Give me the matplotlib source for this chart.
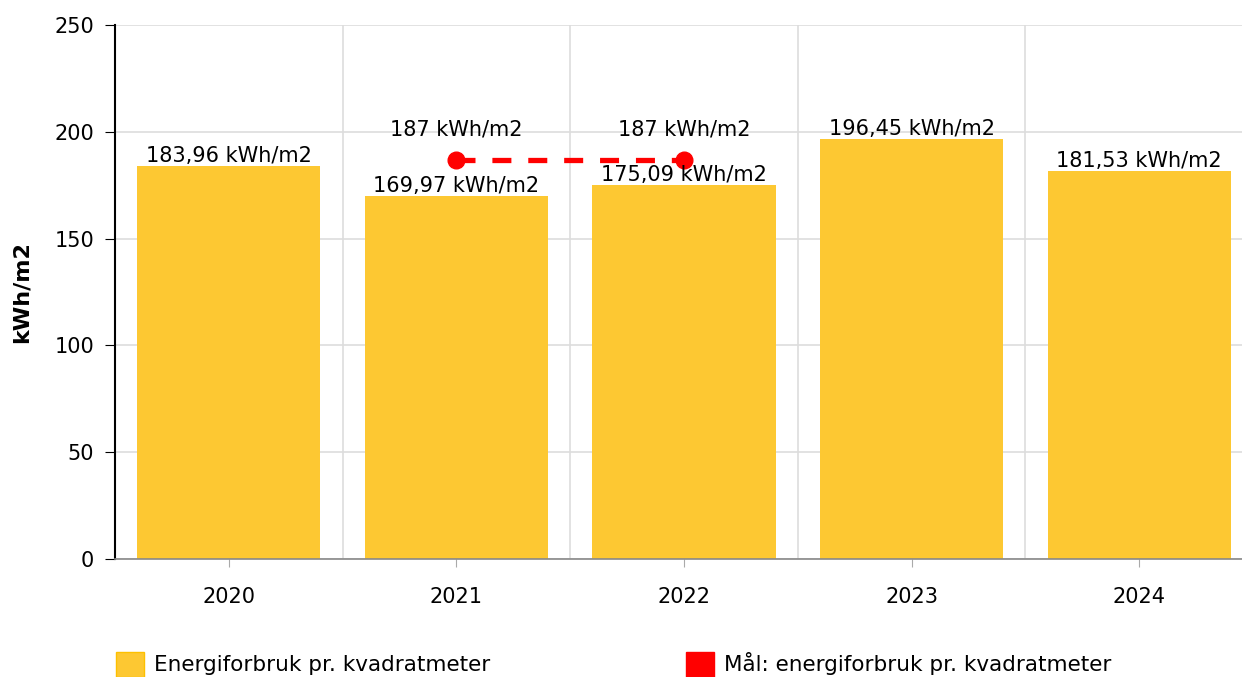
import matplotlib
matplotlib.use("Agg")
import matplotlib.pyplot as plt
from matplotlib.patches import Patch

years = ["2020", "2021", "2022", "2023", "2024"]
usage = [183.96, 169.97, 175.09, 196.45, 181.53]
target_years = ["2021", "2022"]
target = [187, 187]
yticks = [0, 50, 100, 150, 200, 250]

bar_color = "#fdc832"
red = "#ff0000"

plt.rcParams["font.family"] = "DejaVu Sans"

fig = plt.figure(figsize=(12.42, 6.77), dpi=100)
# axes runs past the right edge, as in the reference
ax = fig.add_axes([115 / 1242, 1 - 559 / 677, 1138 / 1242, 534 / 677])

x = list(range(len(years)))
ax.bar(x, usage, width=0.805, color=bar_color, zorder=2)
for xi, v in zip(x, usage):
    ax.annotate(f"{v:.2f}".replace(".", ",") + " kWh/m2", (xi, v),
                xytext=(0, 0), textcoords="offset points",
                ha="center", va="bottom", fontsize=15, zorder=4)

tx = [years.index(y) for y in target_years]
ax.plot(tx, target, color=red, linestyle=(0, (3.6, 3.2)), linewidth=3.8,
        marker="o", markersize=12, zorder=3)
for xi, v in zip(tx, target):
    ax.annotate(f"{v} kWh/m2", (xi, v), xytext=(0, 22),
                textcoords="offset points", ha="center", va="center",
                fontsize=15, zorder=4)

ax.set_xlim(-0.5, len(years) - 0.5)
ax.set_ylim(0, 250)
ax.set_yticks(yticks)
ax.set_xticks(x)
ax.set_xticklabels(years)
ax.set_xticks([i + 0.5 for i in x[:-1]], minor=True)

ax.grid(True, axis="y", color="#dddddd", linewidth=1.2, zorder=0)
ax.grid(True, axis="x", which="minor", color="#dddddd", linewidth=1.2, zorder=0)
ax.tick_params(axis="x", which="minor", length=0)
ax.tick_params(axis="x", which="major", length=6, color="#aaaaaa",
               labelsize=15, pad=14)
ax.tick_params(axis="y", length=7, color="black", labelsize=15, pad=8)

for s in ["top", "right"]:
    ax.spines[s].set_visible(False)
ax.spines["left"].set_color("black")
ax.spines["left"].set_linewidth(1.5)
ax.spines["bottom"].set_color("#888888")
ax.spines["bottom"].set_linewidth(1.2)

ax.set_ylabel("kWh/m2", fontsize=16, fontweight="bold")
ax.yaxis.set_label_coords(-83 / 1138, 0.5)

handles = [Patch(facecolor=bar_color, edgecolor="#fdc000"),
           Patch(facecolor=red, edgecolor=red)]
labels = ["Energiforbruk pr. kvadratmeter", "Mål: energiforbruk pr. kvadratmeter"]
fig.legend(handles, labels, loc="lower left", bbox_to_anchor=(97 / 1242, -0.028),
           ncol=2, frameon=False, fontsize=15.5, handlelength=1.3,
           handleheight=1.4, handletextpad=0.45, columnspacing=9.1)

fig.savefig("out.png", dpi=100)
